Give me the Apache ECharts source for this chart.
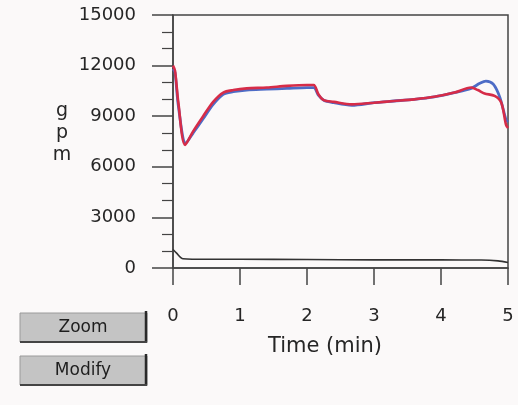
<!DOCTYPE html>
<html><head><meta charset="utf-8">
<script src="https://cdn.jsdelivr.net/npm/echarts@6/dist/echarts.min.js"></script>
<style>html,body{margin:0;padding:0;background:#fbf9f9}#c{width:518px;height:405px}</style>
</head><body><div id="c"></div>
<script>
// Data
const yTicks = [0, 3000, 6000, 9000, 12000, 15000];
const xTicks = [0, 1, 2, 3, 4, 5];
const timeRed = [0, 0.03, 0.08, 0.18, 0.3, 0.45, 0.6, 0.75, 0.9, 1.1, 1.4, 1.7, 2.0, 2.1, 2.17, 2.25, 2.4, 2.67, 3.0, 3.3, 3.6, 3.9, 4.2, 4.45, 4.55, 4.65, 4.8, 4.9, 4.97, 5.0];
const redGpm  = [12000, 11700, 9800, 7300, 8100, 9000, 9850, 10400, 10550, 10650, 10700, 10800, 10850, 10850, 10300, 9950, 9850, 9700, 9800, 9900, 10000, 10150, 10400, 10700, 10550, 10350, 10200, 9800, 8500, 8300];
const timeBlue = [0, 0.03, 0.08, 0.19, 0.3, 0.45, 0.6, 0.75, 0.9, 1.1, 1.4, 1.7, 2.0, 2.1, 2.17, 2.25, 2.4, 2.67, 3.0, 3.3, 3.6, 3.9, 4.2, 4.45, 4.58, 4.67, 4.78, 4.88, 4.97, 5.0];
const blueGpm = [11800, 11600, 9600, 7400, 8000, 8850, 9700, 10300, 10450, 10550, 10600, 10650, 10700, 10700, 10250, 9950, 9800, 9650, 9800, 9900, 10000, 10150, 10400, 10650, 10950, 11080, 10900, 10100, 8800, 8650];
const timeBlack = [0, 0.05, 0.15, 0.5, 1.0, 2.0, 3.0, 4.0, 4.6, 4.85, 5.0];
const blackGpm = [1100, 900, 550, 520, 520, 500, 480, 480, 470, 420, 330];
const yLabel = 'gpm';
const xLabel = 'Time (min)';
const buttons = ['Zoom', 'Modify'];

const zip = (a, b) => a.map((v, i) => [v, b[i]]);
const chart = echarts.init(document.getElementById('c'), null, {renderer: 'canvas'});
const axisColor = '#444';
const textColor = '#262626';
const font = '"DejaVu Sans", Verdana, sans-serif';

function button(text, y, h) {
  return [
    {type: 'rect', shape: {x: 20, y: y, width: 127, height: h}, style: {fill: '#c4c4c4', stroke: '#9a9a9a', lineWidth: 1}},
    {type: 'line', shape: {x1: 146, y1: y - 2, x2: 146, y2: y + h + 1}, style: {stroke: '#2a2a2a', lineWidth: 2.5}},
    {type: 'line', shape: {x1: 20, y1: y + h, x2: 147, y2: y + h}, style: {stroke: '#444', lineWidth: 2}},
    {type: 'text', x: 83, y: y + h / 2, style: {text: text, font: '17px ' + font, fill: '#1e1e1e', align: 'center', verticalAlign: 'middle'}}
  ];
}

chart.setOption({
  backgroundColor: '#fbf9f9',
  animation: false,
  grid: {left: 173, right: 10, top: 15, bottom: 137, show: true, borderColor: axisColor, borderWidth: 1.5, backgroundColor: 'transparent'},
  xAxis: {
    type: 'value', min: 0, max: 5, interval: 1, offset: 5,
    axisLine: {show: true, lineStyle: {color: axisColor, width: 1.5}},
    axisTick: {show: true, length: 17, lineStyle: {color: axisColor, width: 1.5}},
    axisLabel: {margin: 34, fontFamily: font, fontSize: 18, color: textColor, formatter: v => xTicks.includes(v) ? String(v) : ''},
    splitLine: {show: false}
  },
  yAxis: {
    type: 'value', min: 0, max: 15000, interval: 3000, offset: 4,
    axisLine: {show: true, lineStyle: {color: axisColor, width: 1.5}},
    axisTick: {show: true, length: 21, lineStyle: {color: axisColor, width: 1.5}},
    minorTick: {show: true, splitNumber: 3, length: 11, lineStyle: {color: axisColor, width: 1.2}},
    axisLabel: {margin: 33, fontFamily: font, fontSize: 18, color: textColor, formatter: v => yTicks.includes(v) ? String(v) : ''},
    splitLine: {show: false}
  },
  series: [
    {type: 'line', data: zip(timeBlack, blackGpm), showSymbol: false, smooth: 0.3, lineStyle: {color: '#333', width: 1.6}},
    {type: 'line', data: zip(timeBlue, blueGpm), showSymbol: false, smooth: 0.3, lineStyle: {color: '#4d6cc6', width: 2.8}},
    {type: 'line', data: zip(timeRed, redGpm), showSymbol: false, smooth: 0.3, lineStyle: {color: '#d62c48', width: 2.6}}
  ],
  graphic: [
    {type: 'text', x: 62, y: 100, style: {text: yLabel.split('').join('\n'), font: '19px ' + font, fill: textColor, lineHeight: 22, align: 'center'}},
    {type: 'text', x: 325, y: 347, style: {text: xLabel, font: '21px ' + font, fill: textColor, align: 'center', verticalAlign: 'middle'}}
  ].concat(button(buttons[0], 313, 29), button(buttons[1], 356, 29))
});
</script></body></html>
